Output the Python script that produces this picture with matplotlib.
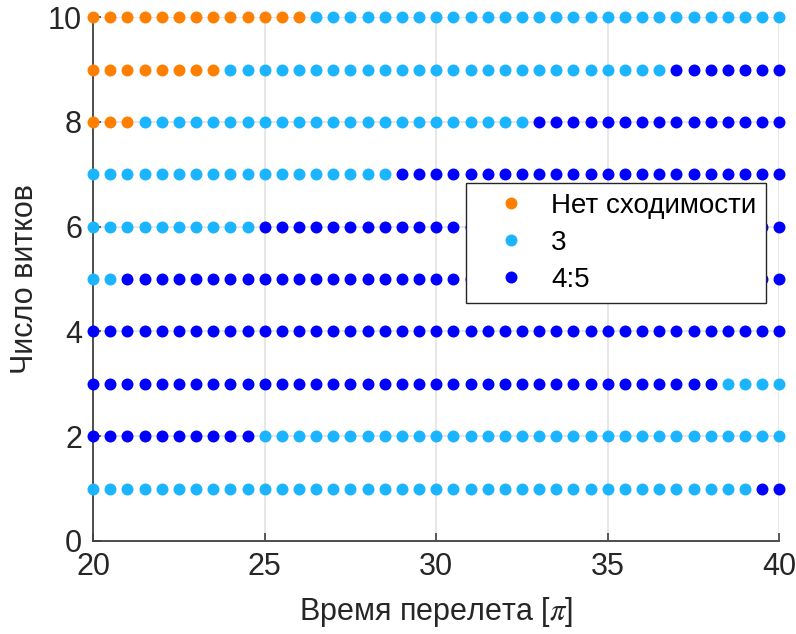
import numpy as np
import matplotlib
matplotlib.use("Agg")
import matplotlib.pyplot as plt

plt.rcParams['font.family'] = ['Liberation Sans', 'DejaVu Sans']
plt.rcParams['mathtext.fontset'] = 'stix'

# Transfer time grid (in units of pi)
tof = [20.0, 20.5, 21.0, 21.5, 22.0, 22.5, 23.0, 23.5, 24.0, 24.5,
       25.0, 25.5, 26.0, 26.5, 27.0, 27.5, 28.0, 28.5, 29.0, 29.5,
       30.0, 30.5, 31.0, 31.5, 32.0, 32.5, 33.0, 33.5, 34.0, 34.5,
       35.0, 35.5, 36.0, 36.5, 37.0, 37.5, 38.0, 38.5, 39.0, 39.5, 40.0]

# Number of revolutions
revs = [1, 2, 3, 4, 5, 6, 7, 8, 9, 10]

# Classes: 0 = no convergence, 1 = "3", 2 = "4:5"
# Each row given as runs of (class, count) along the time grid
runs = {
    1: [(1, 39), (2, 2)],
    2: [(2, 10), (1, 31)],
    3: [(2, 37), (1, 4)],
    4: [(2, 41)],
    5: [(1, 2), (2, 39)],
    6: [(1, 10), (2, 31)],
    7: [(1, 18), (2, 23)],
    8: [(0, 3), (1, 23), (2, 15)],
    9: [(0, 8), (1, 26), (2, 7)],
    10: [(0, 13), (1, 28)],
}

classNames = ['Нет сходимости', '3', '4:5']
classColors = ['#FF8000', '#1AB4FF', '#0000FF']

# Expand the runs into point lists per class
pointsX = {0: [], 1: [], 2: []}
pointsY = {0: [], 1: [], 2: []}
for rev in revs:
    idx = 0
    for cls, count in runs[rev]:
        pointsX[cls].extend(tof[idx:idx + count])
        pointsY[cls].extend([rev] * count)
        idx += count

fig = plt.figure(figsize=(7.96, 6.34), dpi=100)
ax = fig.add_axes([0.117, 0.1467, 0.862, 0.8263])

for cls in range(3):
    ax.plot(pointsX[cls], pointsY[cls], linestyle='none', marker='o',
            markersize=8.6, markeredgewidth=0, color=classColors[cls],
            label=classNames[cls], clip_on=False, zorder=3)

ax.set_xlim(20, 40)
ax.set_ylim(0, 10)
ax.set_xticks([20, 25, 30, 35, 40])
ax.set_yticks([0, 2, 4, 6, 8, 10])

ax.grid(True, color='#e3e3e3', linewidth=1.2)
ax.set_axisbelow(True)

for side in ['top', 'right']:
    ax.spines[side].set_visible(False)
for side in ['left', 'bottom']:
    ax.spines[side].set_color('#404040')
    ax.spines[side].set_linewidth(1.3)

ax.tick_params(direction='in', length=6, width=1.2, color='#404040',
               labelsize=22, labelcolor='#262626', pad=8)

ax.set_xlabel('Время перелета [$\\pi$]', fontsize=22, color='#262626', labelpad=9)
ax.set_ylabel('Число витков', fontsize=22, color='#262626', labelpad=6)

leg = ax.legend(loc='upper left', bbox_to_anchor=(0.544, 0.683), fontsize=20,
                frameon=True, fancybox=False, framealpha=1, edgecolor='#262626',
                borderaxespad=0, handletextpad=0.2, borderpad=0.35,
                labelspacing=0.4, handlelength=2.5, markerscale=1.0)
leg.get_frame().set_linewidth(1.0)
leg.set_zorder(5)
for t in leg.get_texts():
    t.set_color('#000000')

fig.savefig('out.png', dpi=100)
